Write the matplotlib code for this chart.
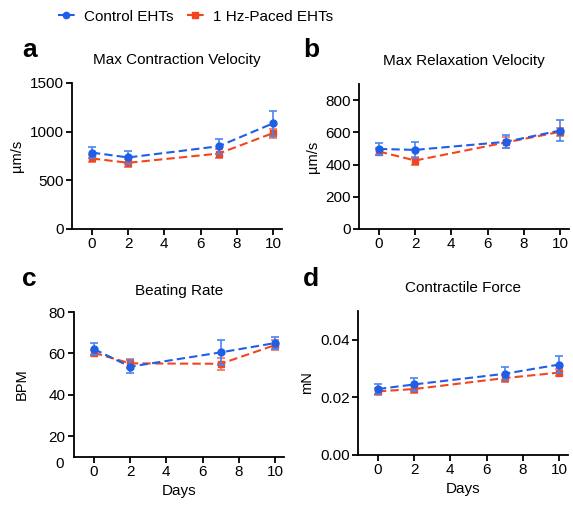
import matplotlib
matplotlib.use("Agg")
import matplotlib.pyplot as plt
from matplotlib.lines import Line2D

plt.rcParams['font.family'] = ['Liberation Sans', 'DejaVu Sans']

days = [0, 2, 7, 10]

# a - max contraction velocity (um/s)
ctrl_cv = [785, 735, 850, 1085]
ctrl_cv_err = [60, 65, 75, 130]
paced_cv = [725, 680, 775, 985]
paced_cv_err = [40, 40, 45, 45]

# b - max relaxation velocity (um/s)
ctrl_rv = [497, 491, 541, 611]
ctrl_rv_err = [38, 50, 41, 65]
paced_rv = [481, 425, 537, 603]
paced_rv_err = [20, 25, 35, 25]

# c - beating rate (BPM)
ctrl_br = [62.1, 53.6, 60.5, 65.0]
ctrl_br_err = [2.7, 3.2, 6.0, 3.0]
paced_br = [60.3, 55.2, 55.0, 64.0]
paced_br_err = [1.5, 2.0, 3.0, 2.5]

# d - contractile force (mN)
ctrl_cf = [0.0229, 0.0245, 0.0282, 0.0314]
ctrl_cf_err = [0.0017, 0.0023, 0.0023, 0.0031]
paced_cf = [0.0221, 0.0229, 0.0267, 0.0286]
paced_cf_err = [0.0012, 0.0012, 0.0012, 0.0012]

blue = '#1f5fe8'
red = '#f5451f'

fig = plt.figure(figsize=(5.73, 5.07), dpi=100)
W, H = 573.0, 507.0


def make_ax(left, top, bottom, width=210):
    return fig.add_axes([left / W, 1 - bottom / H, width / W, (bottom - top) / H])


ax_a = make_ax(72, 83, 229)
ax_b = make_ax(359, 84, 229)
ax_c = make_ax(74, 312, 457)
ax_d = make_ax(358, 311, 455)


def draw(ax, c, ce, p, pe):
    ax.errorbar(days, c, yerr=ce, color=blue, ecolor='#4a85f0', ls='--', lw=1.5,
                marker='o', ms=5, capsize=3, elinewidth=1.2, capthick=1.2,
                dashes=(4, 2), zorder=3)
    ax.errorbar(days, p, yerr=pe, color=red, ecolor='#f7704f', ls='--', lw=1.5,
                marker='s', ms=4.5, capsize=3, elinewidth=1.2, capthick=1.2,
                dashes=(4, 2), zorder=2)
    ax.set_xlim(-1.1, 10.5)
    ax.set_xticks([0, 2, 4, 6, 8, 10])
    for s in ['top', 'right']:
        ax.spines[s].set_visible(False)
    for s in ['left', 'bottom']:
        ax.spines[s].set_linewidth(1.3)
    ax.tick_params(labelsize=11, width=1.3, length=4, pad=2)


draw(ax_a, ctrl_cv, ctrl_cv_err, paced_cv, paced_cv_err)
ax_a.set_ylim(0, 1500)
ax_a.set_yticks([0, 500, 1000, 1500])
ax_a.set_ylabel('µm/s', fontsize=10.5, labelpad=4)
ax_a.set_title('Max Contraction Velocity', fontsize=11, pad=14)

draw(ax_b, ctrl_rv, ctrl_rv_err, paced_rv, paced_rv_err)
ax_b.set_ylim(0, 900)
ax_b.set_yticks([0, 200, 400, 600, 800])
ax_b.set_ylabel('µm/s', fontsize=10.5, labelpad=4)
ax_b.set_title('Max Relaxation Velocity', fontsize=11, pad=14)

draw(ax_c, ctrl_br, ctrl_br_err, paced_br, paced_br_err)
ax_c.set_ylim(10, 80)
ax_c.set_yticks([20, 40, 60, 80])
ax_c.annotate('0', xy=(0, 0), xycoords='axes fraction', xytext=(-7, -5),
              textcoords='offset points', ha='right', va='center', fontsize=11)
ax_c.set_ylabel('BPM', fontsize=10.5, labelpad=14)
ax_c.set_xlabel('Days', fontsize=11, labelpad=3)
ax_c.set_title('Beating Rate', fontsize=11, pad=12)

draw(ax_d, ctrl_cf, ctrl_cf_err, paced_cf, paced_cf_err)
ax_d.set_ylim(0, 0.05)
ax_d.set_yticks([0.0, 0.02, 0.04])
ax_d.set_yticklabels(['0.00', '0.02', '0.04'])
ax_d.set_ylabel('mN', fontsize=10.5, labelpad=4)
ax_d.set_xlabel('Days', fontsize=11, labelpad=3)
ax_d.set_title('Contractile Force', fontsize=11, pad=14)

# panel letters
for lbl, x, y in [('a', 22, 57), ('b', 303, 57), ('c', 22, 286), ('d', 303, 286)]:
    fig.text(x / W, 1 - y / H, lbl, fontsize=19, fontweight='bold', ha='left', va='baseline')

handles = [Line2D([], [], color=blue, ls='--', lw=1.5, dashes=(3, 2), marker='o', ms=4.5),
           Line2D([], [], color=red, ls='--', lw=1.5, dashes=(3, 2), marker='s', ms=4)]
fig.legend(handles, ['Control EHTs', '1 Hz-Paced EHTs'], loc='upper left',
           bbox_to_anchor=(44 / W, 1.008), ncol=2, frameon=False, fontsize=11,
           handlelength=1.1, handletextpad=0.6, columnspacing=0.9)

fig.savefig('out.png', dpi=100)
